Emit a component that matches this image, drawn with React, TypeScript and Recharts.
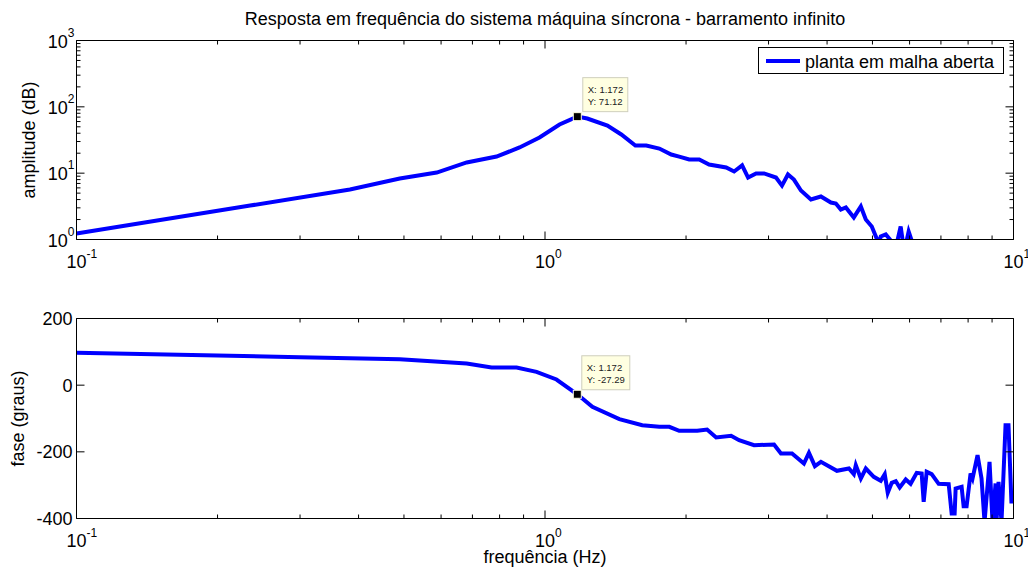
import React from "react";
import { LineChart, Line, XAxis, YAxis, ReferenceDot, Legend, Label } from "recharts";

const FONT = '"Liberation Sans", Arial, Helvetica, sans-serif';
const BLUE = "#0000ff";

const title = "Resposta em frequência do sistema máquina síncrona - barramento infinito";
const seriesName = "planta em malha aberta";

// amplitude (top plot)
const ampFreq = [
  0.1, 0.2348, 0.3834, 0.4898, 0.5873, 0.6806, 0.7882, 0.8824, 0.9734, 1.074,
  1.172, 1.231, 1.359, 1.455, 1.559, 1.645, 1.754, 1.86, 1.934, 2.031,
  2.134, 2.24, 2.436, 2.533, 2.635, 2.713, 2.822, 2.935, 3.112, 3.205,
  3.3, 3.399, 3.518, 3.695, 3.881, 4.076, 4.177, 4.28, 4.387, 4.562,
  4.722, 4.839, 4.983, 5.107, 5.158, 5.208, 5.338, 5.47, 5.607, 5.743,
  5.8, 5.857, 5.973, 6.06, 6.15, 7.0, 8.5, 10
];
const ampValues = [
  1.23, 3.25, 5.67, 8.3, 10.2, 14.5, 17.8, 24.4, 34.5, 54.2,
  71.12, 66.7, 52.3, 38.3, 26.1, 26.1, 23.5, 19.1, 17.8, 16.1,
  16.1, 13.5, 12.2, 10.6, 13.1, 8.6, 9.9, 9.9, 8.6, 6.5,
  9.55, 8.0, 5.48, 4.01, 4.45, 3.61, 3.49, 2.83, 3.04, 2.15,
  3.15, 2.0, 1.57, 1.03, 0.85, 1.11, 1.19, 0.97, 0.75, 1.57,
  0.97, 0.7, 1.32, 0.97, 0.6, 0.4, 0.3, 0.2
];

// phase (bottom plot)
const phaseFreq = [
  0.1, 0.3, 0.4898, 0.6806, 0.7691, 0.8696, 0.9592, 1.058, 1.172, 1.262,
  1.441, 1.613, 1.754, 1.842, 1.934, 2.113, 2.218, 2.319, 2.496, 2.596,
  2.794, 3.082, 3.189, 3.367, 3.57, 3.659, 3.768, 3.881, 4.198, 4.453,
  4.562, 4.607, 4.722, 4.839, 5.032, 5.208, 5.311, 5.39, 5.497, 5.607,
  5.716, 5.888, 6.031, 6.215, 6.368, 6.431, 6.526, 6.688, 6.923, 7.272,
  7.379, 7.488, 7.525, 7.749, 7.826, 7.941, 8.098, 8.178, 8.38, 8.546,
  8.673, 8.889, 9.02, 9.156, 9.2, 9.291, 9.428, 9.616, 9.757, 9.901
];
const phaseValues = [
  97, 84, 78, 65, 53, 53, 40, 17, -27.29, -65,
  -102, -120, -125, -125, -137, -137, -133, -157, -152, -165,
  -180, -178, -205, -205, -235, -203, -243, -230, -257, -250,
  -267, -240, -280, -250, -275, -287, -267, -323, -293, -288,
  -307, -283, -296, -263, -265, -350, -260, -267, -296, -297,
  -385, -385, -310, -305, -363, -363, -265, -280, -210, -280,
  -410, -230, -410, -295, -410, -290, -410, -120, -120, -355
];

// data cursor
const tipFreq = 1.172;
const tipAmp = 71.12;
const tipPhase = -27.29;

const freqTicks = [
  0.1, 0.2, 0.3, 0.4, 0.5, 0.6, 0.7, 0.8, 0.9,
  1, 2, 3, 4, 5, 6, 7, 8, 9, 10
];
const ampTicks = [
  1, 2, 3, 4, 5, 6, 7, 8, 9,
  10, 20, 30, 40, 50, 60, 70, 80, 90,
  100, 200, 300, 400, 500, 600, 700, 800, 900, 1000
];
const phaseTicks = [-400, -200, 0, 200];

const ampData = ampFreq.map((f, i) => ({ f, amp: ampValues[i] }));
const phaseData = phaseFreq.map((f, i) => ({ f, phase: phaseValues[i] }));

const isDecade = (v: number) => {
  const l = Math.log10(v);
  return Math.abs(l - Math.round(l)) < 1e-6;
};

const FreqTick = (props: any) => {
  const { x, y, payload, side } = props;
  const v = payload.value;
  const major = isDecade(v);
  const len = major ? 8 : 4;
  const dir = side === "bottom" ? -1 : 1;
  return (
    <g>
      <line x1={x} y1={y} x2={x} y2={y + dir * len} stroke="#000" />
      {side === "bottom" && major && (
        <text x={x - 10} y={y + 28} fontSize={18} fontFamily={FONT} fill="#000">
          10
          <tspan dy={-10} fontSize={12}>
            {Math.round(Math.log10(v))}
          </tspan>
        </text>
      )}
    </g>
  );
};

const AmpTick = (props: any) => {
  const { x, y, payload, side } = props;
  const v = payload.value;
  const major = isDecade(v);
  const len = major ? 8 : 4;
  const dir = side === "left" ? 1 : -1;
  return (
    <g>
      <line x1={x} y1={y} x2={x + dir * len} y2={y} stroke="#000" />
      {side === "left" && major && (
        <text x={x - 2} y={y + 7} textAnchor="end" fontSize={18} fontFamily={FONT} fill="#000">
          10
          <tspan dy={-11} fontSize={12}>
            {Math.round(Math.log10(v))}
          </tspan>
        </text>
      )}
    </g>
  );
};

const PhaseTick = (props: any) => {
  const { x, y, payload, side } = props;
  const dir = side === "left" ? 1 : -1;
  return (
    <g>
      <line x1={x} y1={y} x2={x + dir * 8} y2={y} stroke="#000" />
      {side === "left" && (
        <text x={x - 4} y={y + 6.5} textAnchor="end" fontSize={18} fontFamily={FONT} fill="#000">
          {payload.value}
        </text>
      )}
    </g>
  );
};

const DataTip = (props: any) => {
  const { cx, cy, lines, boxW, boxDx, boxDy } = props;
  if (cx == null || cy == null) return null;
  return (
    <g>
      <rect
        x={cx + boxDx}
        y={cy + boxDy}
        width={boxW}
        height={34}
        fill="#ffffe1"
        stroke="#cfcfbd"
      />
      {lines.map((t: string, i: number) => (
        <text
          key={i}
          x={cx + boxDx + 5}
          y={cy + boxDy + 15 + i * 12}
          fontSize={9.5}
          fontFamily={FONT}
          fill="#222"
        >
          {t}
        </text>
      ))}
      <rect x={cx - 4} y={cy - 4} width={8} height={8} fill="#000" stroke="#ffffe1" strokeWidth={1} />
    </g>
  );
};

const LegendBox = (props: any) => {
  const item = props.payload?.[0];
  return (
    <svg width={246} height={27} style={{ display: "block" }}>
      <rect x={0.5} y={0.5} width={245} height={26} fill="#fff" stroke="#000" />
      <line x1={8} y1={14} x2={42} y2={14} stroke={item?.color || BLUE} strokeWidth={4} />
      <text x={47} y={20.5} fontSize={18} fontFamily={FONT} fill="#000">
        {item?.value}
      </text>
    </svg>
  );
};

const YTitle = (text: string, dx: number) => (props: any) => {
  const vb = props.viewBox;
  if (!vb) return null;
  const cx = vb.x + dx;
  const cy = vb.y + vb.height / 2;
  return (
    <text
      transform={`translate(${cx},${cy}) rotate(-90)`}
      textAnchor="middle"
      fontSize={18}
      fontFamily={FONT}
      fill="#000"
    >
      {text}
    </text>
  );
};

const TopTitle = (props: any) => {
  const vb = props.viewBox;
  if (!vb) return null;
  return (
    <text
      x={vb.x + vb.width / 2}
      y={vb.y + vb.height - 16}
      textAnchor="middle"
      fontSize={18}
      fontFamily={FONT}
      fill="#000"
    >
      {title}
    </text>
  );
};

const XTitle = (props: any) => {
  const vb = props.viewBox;
  if (!vb) return null;
  return (
    <text
      x={vb.x + vb.width / 2}
      y={vb.y + 44}
      textAnchor="middle"
      fontSize={18}
      fontFamily={FONT}
      fill="#000"
    >
      frequência (Hz)
    </text>
  );
};

const axisLine = { stroke: "#000", strokeWidth: 1 };

export default function App() {
  return (
    <div
      style={{
        position: "absolute",
        left: 0,
        top: 0,
        width: 1028,
        height: 572,
        background: "#fff",
        fontFamily: FONT
      }}
    >
      <div style={{ position: "absolute", left: 0, top: 0 }}>
        <LineChart
          width={1028}
          height={290}
          data={ampData}
          margin={{ top: 39.5, right: 13.5, bottom: 20.5, left: 16.5 }}
        >
          <XAxis
            dataKey="f"
            type="number"
            scale="log"
            domain={[0.1, 10]}
            ticks={freqTicks}
            interval={0}
            allowDataOverflow
            height={30}
            tickLine={false}
            tickSize={0}
            tickMargin={0}
            axisLine={axisLine}
            tick={(p: any) => <FreqTick {...p} side="bottom" />}
          />
          <XAxis
            xAxisId="top"
            orientation="top"
            dataKey="f"
            type="number"
            scale="log"
            domain={[0.1, 10]}
            ticks={freqTicks}
            interval={0}
            allowDataOverflow
            height={1}
            tickLine={false}
            tickSize={0}
            tickMargin={0}
            axisLine={axisLine}
            tick={(p: any) => <FreqTick {...p} side="top" />}
          >
            <Label content={TopTitle} />
          </XAxis>
          <YAxis
            type="number"
            scale="log"
            domain={[1, 1000]}
            ticks={ampTicks}
            interval={0}
            allowDataOverflow
            width={60}
            tickLine={false}
            tickSize={0}
            tickMargin={0}
            axisLine={axisLine}
            tick={(p: any) => <AmpTick {...p} side="left" />}
          >
            <Label content={YTitle("amplitude (dB)", 18.5)} />
          </YAxis>
          <YAxis
            yAxisId="right"
            orientation="right"
            type="number"
            scale="log"
            domain={[1, 1000]}
            ticks={ampTicks}
            interval={0}
            allowDataOverflow
            width={1}
            tickLine={false}
            tickSize={0}
            tickMargin={0}
            axisLine={axisLine}
            tick={(p: any) => <AmpTick {...p} side="right" />}
          />
          <Legend
            layout="horizontal"
            verticalAlign="middle"
            align="center"
            wrapperStyle={{ left: 758, top: 47, width: 246, height: 27 }}
            content={LegendBox}
          />
          <Line
            dataKey="amp"
            name={seriesName}
            type="linear"
            stroke={BLUE}
            strokeWidth={4}
            dot={false}
            activeDot={false}
            isAnimationActive={false}
          />
          <ReferenceDot
            x={tipFreq}
            y={tipAmp}
            r={4}
            shape={(p: any) => (
              <DataTip
                {...p}
                lines={[`X: ${tipFreq}`, `Y: ${tipAmp}`]}
                boxW={45}
                boxDx={5.5}
                boxDy={-39}
              />
            )}
          />
        </LineChart>
      </div>
      <div style={{ position: "absolute", left: 0, top: 290 }}>
        <LineChart
          width={1028}
          height={282}
          data={phaseData}
          margin={{ top: 27.5, right: 13.5, bottom: 9.5, left: 16.5 }}
        >
          <XAxis
            dataKey="f"
            type="number"
            scale="log"
            domain={[0.1, 10]}
            ticks={freqTicks}
            interval={0}
            allowDataOverflow
            height={44}
            tickLine={false}
            tickSize={0}
            tickMargin={0}
            axisLine={axisLine}
            tick={(p: any) => <FreqTick {...p} side="bottom" />}
          >
            <Label content={XTitle} />
          </XAxis>
          <XAxis
            xAxisId="top"
            orientation="top"
            dataKey="f"
            type="number"
            scale="log"
            domain={[0.1, 10]}
            ticks={freqTicks}
            interval={0}
            allowDataOverflow
            height={1}
            tickLine={false}
            tickSize={0}
            tickMargin={0}
            axisLine={axisLine}
            tick={(p: any) => <FreqTick {...p} side="top" />}
          />
          <YAxis
            type="number"
            domain={[-400, 200]}
            ticks={phaseTicks}
            interval={0}
            allowDataOverflow
            width={60}
            tickLine={false}
            tickSize={0}
            tickMargin={0}
            axisLine={axisLine}
            tick={(p: any) => <PhaseTick {...p} side="left" />}
          >
            <Label content={YTitle("fase (graus)", 7.5)} />
          </YAxis>
          <YAxis
            yAxisId="right"
            orientation="right"
            type="number"
            domain={[-400, 200]}
            ticks={phaseTicks}
            interval={0}
            allowDataOverflow
            width={1}
            tickLine={false}
            tickSize={0}
            tickMargin={0}
            axisLine={axisLine}
            tick={(p: any) => <PhaseTick {...p} side="right" />}
          />
          <Line
            dataKey="phase"
            name={seriesName}
            type="linear"
            stroke={BLUE}
            strokeWidth={4}
            dot={false}
            activeDot={false}
            isAnimationActive={false}
          />
          <ReferenceDot
            x={tipFreq}
            y={tipPhase}
            r={4}
            shape={(p: any) => (
              <DataTip
                {...p}
                lines={[`X: ${tipFreq}`, `Y: ${tipPhase}`]}
                boxW={48}
                boxDx={4.5}
                boxDy={-38.5}
              />
            )}
          />
        </LineChart>
      </div>
    </div>
  );
}
